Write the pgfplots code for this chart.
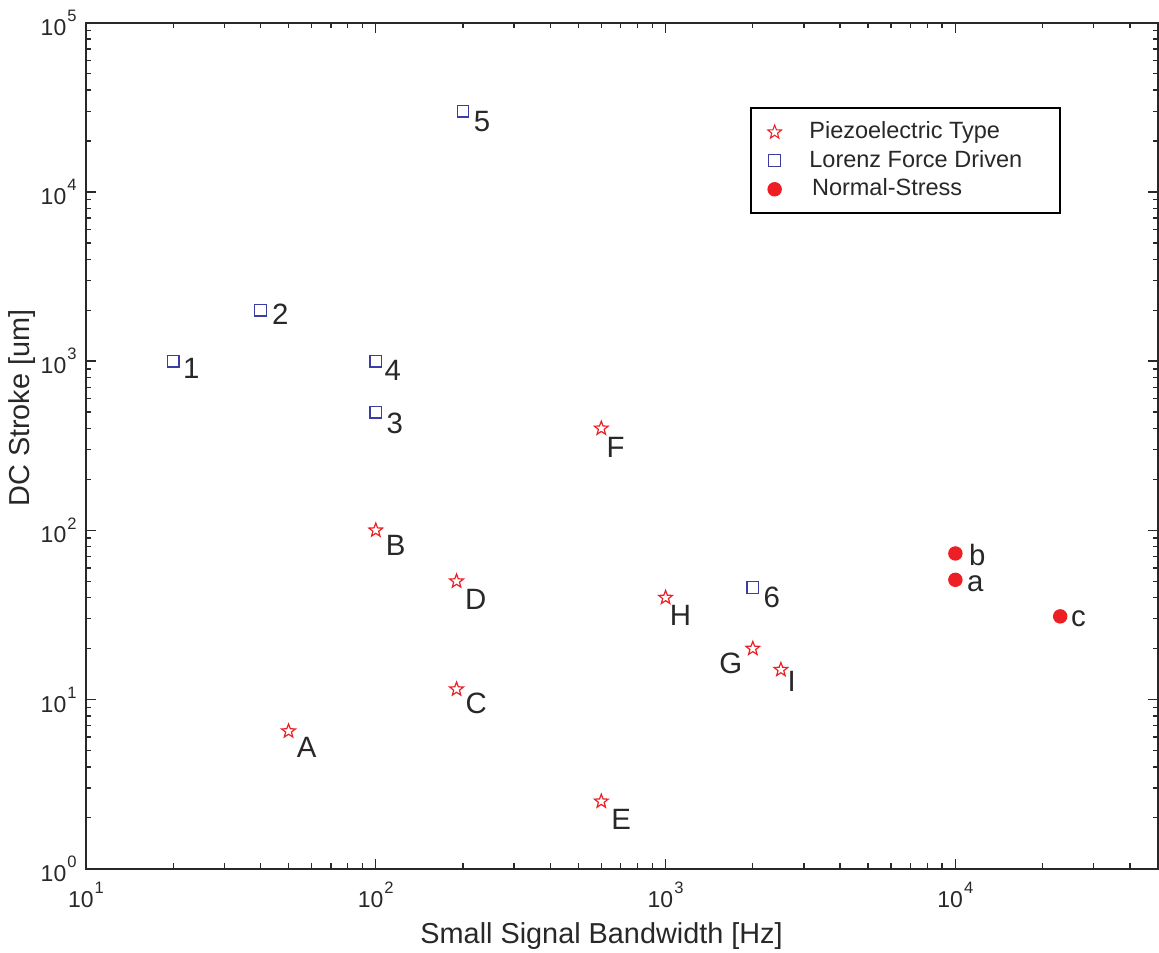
\documentclass[border=0pt]{standalone}
\usepackage{pgfplots}
\pgfplotsset{compat=1.18}
\usepackage{fontspec}
\setmainfont{Liberation Sans}
\definecolor{myred}{RGB}{237,30,36}
\definecolor{myblue}{RGB}{60,60,165}
\definecolor{txt}{RGB}{40,40,40}
\pgfdeclareplotmark{ostar}{%
  \pgfpathmoveto{\pgfpointpolar{90}{\pgfplotmarksize}}%
  \pgfpathlineto{\pgfpointpolar{126}{0.42\pgfplotmarksize}}%
  \pgfpathlineto{\pgfpointpolar{162}{\pgfplotmarksize}}%
  \pgfpathlineto{\pgfpointpolar{198}{0.42\pgfplotmarksize}}%
  \pgfpathlineto{\pgfpointpolar{234}{\pgfplotmarksize}}%
  \pgfpathlineto{\pgfpointpolar{270}{0.42\pgfplotmarksize}}%
  \pgfpathlineto{\pgfpointpolar{306}{\pgfplotmarksize}}%
  \pgfpathlineto{\pgfpointpolar{342}{0.42\pgfplotmarksize}}%
  \pgfpathlineto{\pgfpointpolar{18}{\pgfplotmarksize}}%
  \pgfpathlineto{\pgfpointpolar{54}{0.42\pgfplotmarksize}}%
  \pgfpathclose\pgfusepathqstroke}
\newcommand{\tenpow}[1]{10\hspace{0.4pt}\raisebox{5.2pt}{\fontsize{6.2}{7}\selectfont\pgfmathparse{int(round(#1))}\pgfmathresult}}
\begin{document}
\begin{tikzpicture}
\begin{axis}[
  scale only axis,
  width=401.4pt, height=316.8pt,
  xmode=log, ymode=log,
  log basis x=10, log basis y=10,
  xmin=10, xmax=5e4, ymin=1, ymax=1e5,
  axis line style={txt, line width=0.75pt},
  tick style={txt, line width=0.5pt},
  major tick length=3.7pt, minor tick length=2pt,
  tick align=inside,
  xtick={10,100,1000,10000}, ytick={1,10,100,1000,10000,100000},
  minor xtick={20,30,40,50,60,70,80,90,200,300,400,500,600,700,800,900,2000,3000,4000,5000,6000,7000,8000,9000,20000,30000,40000},
  minor ytick={2,3,4,5,6,7,8,9,20,30,40,50,60,70,80,90,200,300,400,500,600,700,800,900,2000,3000,4000,5000,6000,7000,8000,9000,20000,30000,40000,50000,60000,70000,80000,90000},
  xticklabel={\tenpow{\tick}},
  yticklabel={\tenpow{\tick}},
  ticklabel style={font=\fontsize{8.6}{10}\selectfont, text=txt},
  xticklabel style={yshift=-1.5pt},
  xlabel={Small Signal Bandwidth [Hz]},
  ylabel={DC Stroke [um]},
  label style={font=\fontsize{10.8}{12}\selectfont, text=txt},
  xlabel style={at={(axis description cs:0.481,0)}, anchor=north, yshift=-16.5pt},
  ylabel style={at={(axis description cs:-0.0598,0.5446)}, anchor=center},
  legend style={at={(0.910,0.900)}, anchor=north east, draw=black, line width=0.8pt,
     font=\fontsize{8.8}{9}\selectfont, text=txt, inner xsep=3pt, inner ysep=3pt,
     row sep=-1.2pt, cells={anchor=west}},
  legend image code/.code={\draw[draw=none, fill=none] (0pt,0pt) -- (17pt,0pt); \draw[line width=0.4pt] plot coordinates {(6pt,0pt)};},
]
\addplot[only marks, mark=ostar, mark size=2.7pt, color=myred, line width=0.45pt]
 coordinates {(50,6.5) (100,100) (190,11.5) (190,50) (600,2.5) (600,400) (1000,40) (2000,20) (2500,15)};
\addlegendentry{\makebox[89pt][l]{Piezoelectric Type}}
\addplot[only marks, mark=square, mark size=2.2pt, color=myblue, line width=0.45pt]
 coordinates {(20,1000) (40,2000) (100,500) (100,1000) (200,30000) (2000,46)};
\addlegendentry{Lorenz Force Driven}
\addplot[only marks, mark=*, mark size=2.5pt, color=myred, fill=myred]
 coordinates {(10000,51) (10000,73) (23000,31)};
\addlegendentry{\hspace{1pt}Normal-Stress}
\begin{scope}[every node/.style={font=\fontsize{11}{12}\selectfont, text=txt, inner sep=0pt, text height=7.9pt, text depth=0pt}]
% stars
\node[xshift=6.8pt, yshift=-6pt] at (axis cs:50,6.5) {A};
\node[xshift=7.4pt, yshift=-5.3pt] at (axis cs:100,100) {B};
\node[xshift=7.4pt, yshift=-5.3pt] at (axis cs:190,11.5) {C};
\node[xshift=7.2pt, yshift=-6.6pt] at (axis cs:190,50) {D};
\node[xshift=7.4pt, yshift=-6.6pt] at (axis cs:600,2.5) {E};
\node[xshift=5.4pt, yshift=-6.8pt] at (axis cs:600,400) {F};
\node[xshift=5.6pt, yshift=-6.4pt] at (axis cs:1000,40) {H};
\node[xshift=-8.2pt, yshift=-5.2pt] at (axis cs:2000,20) {G};
\node[xshift=4pt, yshift=-4.2pt] at (axis cs:2500,15) {I};
% squares
\node[xshift=6.8pt, yshift=-2.6pt] at (axis cs:20,1000) {1};
\node[xshift=7.4pt, yshift=-1.5pt] at (axis cs:40,2000) {2};
\node[xshift=7.1pt, yshift=-4pt] at (axis cs:100,500) {3};
\node[xshift=6.4pt, yshift=-3.3pt] at (axis cs:100,1000) {4};
\node[xshift=7.1pt, yshift=-3.7pt] at (axis cs:200,30000) {5};
\node[xshift=7.1pt, yshift=-3.7pt] at (axis cs:2000,46) {6};
% circles
\node[xshift=8.2pt, yshift=-0.4pt] at (axis cs:10000,73) {b};
\node[xshift=7.5pt, yshift=-0.6pt] at (axis cs:10000,51) {a};
\node[xshift=6.8pt, yshift=0.3pt] at (axis cs:23000,31) {c};
\end{scope}
\end{axis}
\pgfresetboundingbox
\path[use as bounding box] (-32.2pt,-31.2pt) rectangle (401.8pt,325.3pt);
\end{tikzpicture}
\end{document}
